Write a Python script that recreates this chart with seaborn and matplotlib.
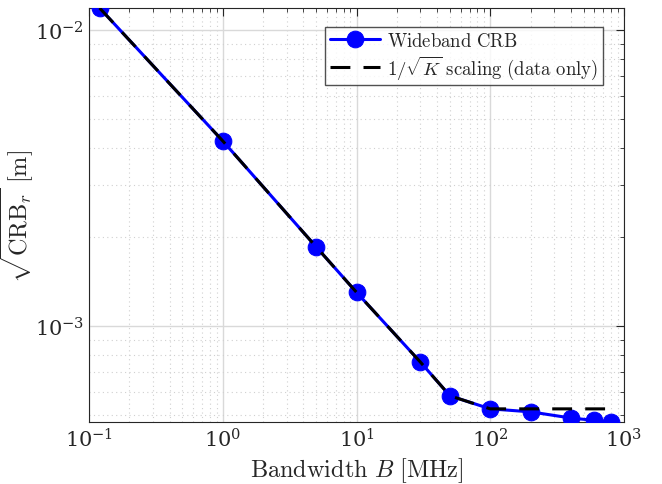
import numpy as np
import pandas as pd
import matplotlib
matplotlib.use("Agg")
import matplotlib.pyplot as plt
import seaborn as sns
from matplotlib.ticker import LogLocator, NullFormatter

# ---- data ----
bandwidth_mhz = [0.12, 1, 5, 10, 30, 50, 100, 200, 400, 600, 800]
crb_wideband = [0.01187, 0.00422, 0.00185, 0.00130, 7.56e-4, 5.81e-4,
                5.25e-4, 5.13e-4, 4.89e-4, 4.80e-4, 4.74e-4]
crb_scaling = [0.01187, 0.00422, 0.00185, 0.00130, 7.56e-4, 5.81e-4,
               5.25e-4, 5.25e-4, 5.25e-4, 5.25e-4, 5.25e-4]
label_wide = r"$\mathrm{Wideband\ CRB}$"
label_scal = r"$1/\sqrt{K}\ \mathrm{scaling\ (data\ only)}$"

df_wide = pd.DataFrame({"B": bandwidth_mhz, "CRB": crb_wideband})
df_scal = pd.DataFrame({"B": bandwidth_mhz, "CRB": crb_scaling})

sns.set_style("white")
plt.rcParams["font.family"] = ["DejaVu Serif"]
plt.rcParams["mathtext.fontset"] = "cm"

fig = plt.figure(figsize=(6.62, 4.85), dpi=100)
ax = fig.add_axes([89 / 662, 1 - 423 / 485, 535 / 662, 414 / 485])

sns.lineplot(data=df_wide, x="B", y="CRB", ax=ax,
             color="#0000ff", lw=2.2, marker="o", markersize=12,
             markeredgecolor="#0000ff", label=label_wide, zorder=3)
sns.lineplot(data=df_scal, x="B", y="CRB", ax=ax,
             color="black", lw=2.2, label=label_scal, zorder=4)
ax.lines[-1].set_dashes((6.5, 4.3))

ax.set_xscale("log")
ax.set_yscale("log")
ax.set_xlim(0.1, 1000)
ax.set_ylim(min(crb_wideband), max(crb_wideband))

ax.xaxis.set_major_locator(LogLocator(base=10, numticks=10))
ax.xaxis.set_minor_locator(LogLocator(base=10, subs=np.arange(2, 10), numticks=20))
ax.yaxis.set_major_locator(LogLocator(base=10, numticks=10))
ax.yaxis.set_minor_locator(LogLocator(base=10, subs=np.arange(2, 10), numticks=20))
ax.xaxis.set_minor_formatter(NullFormatter())
ax.yaxis.set_minor_formatter(NullFormatter())

ax.grid(True, which="major", color="#d9d9d9", lw=1.0, ls="-")
ax.grid(True, which="minor", color="#d0d0d0", lw=0.8, ls=(0, (1, 3)))
ax.set_axisbelow(True)

ax.tick_params(which="both", direction="in", top=True, right=True,
               labelsize=15, colors="#262626")
ax.tick_params(which="major", length=6, width=0.8)
ax.tick_params(which="minor", length=3, width=0.6)
for s in ax.spines.values():
    s.set_color("#262626")
    s.set_linewidth(0.8)

ax.set_xlabel(r"$\mathrm{Bandwidth}\ B\ [\mathrm{MHz}]$", fontsize=17.5, color="#262626")
ax.set_ylabel(r"$\sqrt{\mathrm{CRB}_r}\ [\mathrm{m}]$", fontsize=17.5, color="#262626")
ax.yaxis.set_label_coords(-0.099, 0.5)

leg = ax.legend(loc="upper right", bbox_to_anchor=(0.96, 0.954), fontsize=13.5,
                frameon=True, fancybox=False, edgecolor="#262626",
                handlelength=2.7, borderpad=0.25, labelspacing=0.2,
                handletextpad=0.35, borderaxespad=0)
leg.get_frame().set_linewidth(1.0)

fig.savefig("out.png", dpi=100)
